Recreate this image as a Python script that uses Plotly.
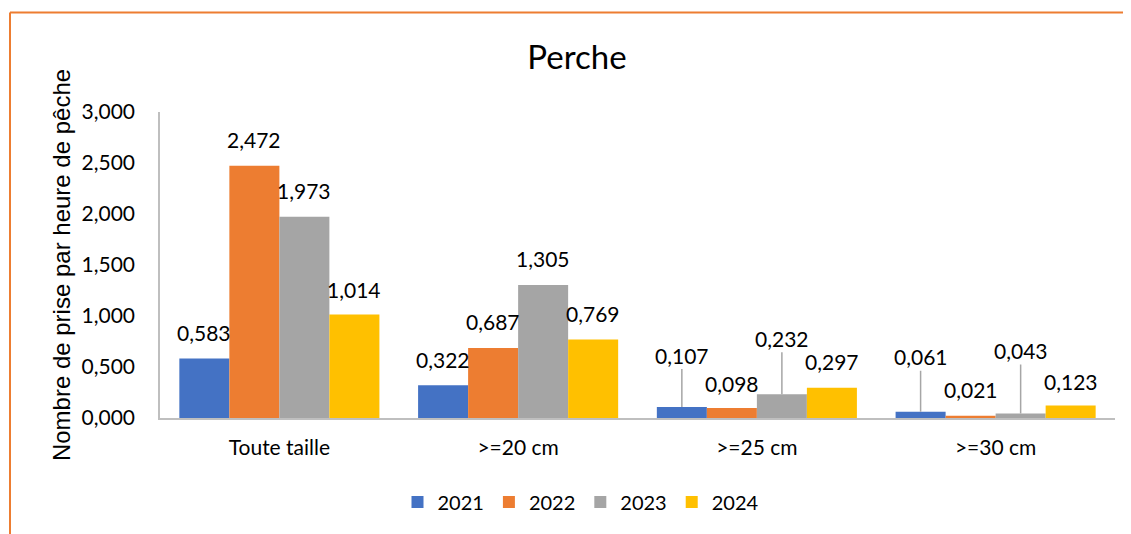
import plotly.graph_objects as go

categories = ["Toute taille", ">=20 cm", ">=25 cm", ">=30 cm"]
years = ["2021", "2022", "2023", "2024"]
v2021 = [0.583, 0.322, 0.107, 0.061]
v2022 = [2.472, 0.687, 0.098, 0.021]
v2023 = [1.973, 1.305, 0.232, 0.043]
v2024 = [1.014, 0.769, 0.297, 0.123]
colors = ["#4472C4", "#ED7D31", "#A5A5A5", "#FFC000"]
# label lift (px above bar top) per series/category; larger ones use a leader line
lift = [
    [26, 26, 52, 55],
    [26, 26, 25, 26],
    [26, 26, 56, 63],
    [25, 26, 26, 24],
]

series = [v2021, v2022, v2023, v2024]
FONT = "Lato"

fig = go.Figure()
for name, vals, col in zip(years, series, colors):
    fig.add_trace(go.Bar(x=categories, y=vals, name=name, marker_color=col,
                         marker_line_width=0))

# page body has an 8px margin, so the figure is laid out 8px smaller
OFF = 8
W, H = 1131 - OFF, 534 - OFF
L, T = 160 - OFF, 112 - OFF
R = W - (1115 - OFF)
B = H - (418 - OFF)
pw = W - L - R
ph = H - T - B
bar_px = pw / 4 * (1 - 0.162) / 4

annotations = []
for si, vals in enumerate(series):
    for ci, v in enumerate(vals):
        off = lift[si][ci]
        leader = off > 40
        annotations.append(dict(
            x=categories[ci], y=v, xref="x", yref="y",
            text=f"{v:.3f}".replace(".", ","),
            showarrow=True, ax=0, ay=-off, axref="pixel", ayref="pixel",
            arrowhead=0, arrowwidth=1.5,
            arrowcolor="#A6A6A6" if leader else "rgba(0,0,0,0)",
            xshift=(si - 1.5) * bar_px,
            font=dict(family=FONT, size=21, color="#000000"),
        ))

border_y = 1 + (T - (12.5 - OFF)) / ph
border_x = ((10 - OFF) - L) / pw

fig.update_layout(
    width=W, height=H,
    margin=dict(l=L, r=R, t=T, b=B, autoexpand=False),
    paper_bgcolor="white", plot_bgcolor="white",
    separators=", ",
    barmode="group", bargap=0.162, bargroupgap=0,
    title=dict(text="Perche", x=(577 - OFF) / W, xanchor="center",
               y=1 - (57 - OFF) / H, yanchor="middle",
               font=dict(family=FONT, size=33, color="#000000")),
    font=dict(family=FONT, size=21, color="#000000"),
    xaxis=dict(showline=True, linecolor="#BFBFBF", linewidth=1.5, ticks="",
               ticklabelstandoff=10,
               tickfont=dict(family=FONT, size=21), showgrid=False),
    yaxis=dict(range=[0, 3], dtick=0.5, tickformat=".3f", showline=True,
               linecolor="#BFBFBF", linewidth=1.5, showgrid=False, zeroline=False,
               ticks="", ticklabelstandoff=19,
               tickfont=dict(family=FONT, size=21),
               title=dict(text="Nombre de prise par heure de pêche",
                          font=dict(family="Liberation Sans", size=24), standoff=4)),
    legend=dict(orientation="h", x=(581 - OFF) / W, xref="container", xanchor="center",
                y=1 - (502 - OFF) / H, yref="container", yanchor="middle",
                font=dict(family=FONT, size=20), itemwidth=30),
    annotations=annotations,
    shapes=[
        dict(type="line", xref="paper", yref="paper",
             x0=border_x, x1=(W + 5 - L) / pw, y0=border_y, y1=border_y,
             line=dict(color="#ED7D31", width=2)),
        dict(type="line", xref="paper", yref="paper",
             x0=border_x, x1=border_x, y0=border_y, y1=-(B + 5) / ph,
             line=dict(color="#ED7D31", width=2)),
    ],
)

fig.write_html("out.html")
